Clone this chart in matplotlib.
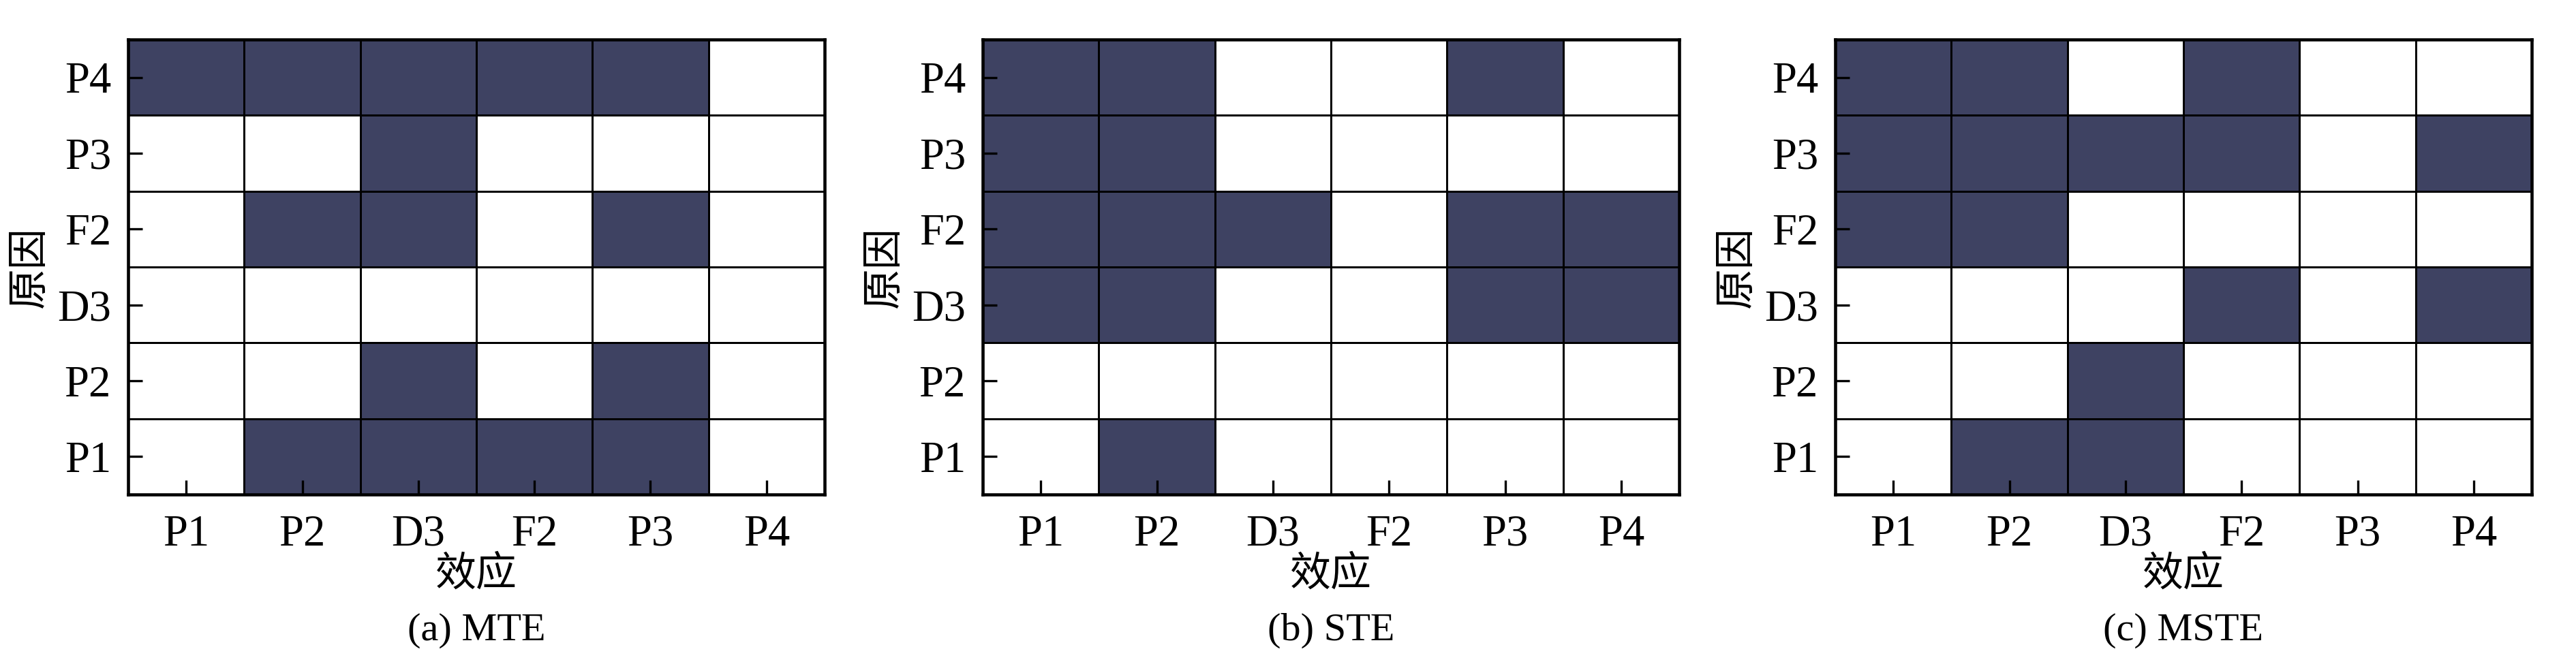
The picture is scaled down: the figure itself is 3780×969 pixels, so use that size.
import matplotlib
matplotlib.use("Agg")
import matplotlib.pyplot as plt
import numpy as np
from matplotlib.colors import ListedColormap

plt.rcParams['font.family'] = ['Liberation Serif', 'Noto Sans CJK SC']

effects = ["P1", "P2", "D3", "F2", "P3", "P4"]
causes = ["P1", "P2", "D3", "F2", "P3", "P4"]  # bottom to top
titles = ["(a) MTE", "(b) STE", "(c) MSTE"]

# rows = causes from P1 (bottom) to P4 (top); cols = effects
mte = [
    [0, 1, 1, 1, 1, 0],  # P1
    [0, 0, 1, 0, 1, 0],  # P2
    [0, 0, 0, 0, 0, 0],  # D3
    [0, 1, 1, 0, 1, 0],  # F2
    [0, 0, 1, 0, 0, 0],  # P3
    [1, 1, 1, 1, 1, 0],  # P4
]
ste = [
    [0, 1, 0, 0, 0, 0],
    [0, 0, 0, 0, 0, 0],
    [1, 1, 0, 0, 1, 1],
    [1, 1, 1, 0, 1, 1],
    [1, 1, 0, 0, 0, 0],
    [1, 1, 0, 0, 1, 0],
]
mste = [
    [0, 1, 1, 0, 0, 0],
    [0, 0, 1, 0, 0, 0],
    [0, 0, 0, 1, 0, 1],
    [1, 1, 0, 0, 0, 0],
    [1, 1, 1, 1, 0, 1],
    [1, 1, 0, 1, 0, 0],
]
matrices = [mte, ste, mste]

dark = "#3e4262"
cmap = ListedColormap(["white", dark])

W, H = 3780, 969
dpi = 300
fig = plt.figure(figsize=(W / dpi, H / dpi), dpi=dpi)

lefts_px = [188, 1442, 2693]
ax_w_px = 1022
top_px, bot_px = 58, 726

for i, (mat, title) in enumerate(zip(matrices, titles)):
    l = lefts_px[i] / W
    b = 1 - bot_px / H
    w = ax_w_px / W
    h = (bot_px - top_px) / H
    ax = fig.add_axes([l, b, w, h])
    data = np.array(mat)
    ax.pcolormesh(np.arange(len(effects) + 1), np.arange(len(causes) + 1), data,
                  cmap=cmap, vmin=0, vmax=1, edgecolors="black", linewidth=0.6)
    ax.set_xlim(0, len(effects))
    ax.set_ylim(0, len(causes))
    ax.set_xticks(np.arange(len(effects)) + 0.5)
    ax.set_xticklabels(effects)
    ax.set_yticks(np.arange(len(causes)) + 0.5)
    ax.set_yticklabels(causes)
    ax.tick_params(direction="in", length=5, width=0.8, labelsize=15.5, pad=6)
    ax.tick_params(axis="x", pad=7)
    for sp in ax.spines.values():
        sp.set_linewidth(1.1)
    ax.set_xlabel("效应", fontsize=14.4, family=['Noto Sans CJK SC'], va="center")
    ax.xaxis.set_label_coords(0.5, -0.175)
    ax.set_ylabel("原因", fontsize=14.4, family=['Noto Sans CJK SC'], va="center")
    ax.yaxis.set_label_coords(-0.142, 0.5)
    ax.text(0.5, -0.26, title, transform=ax.transAxes, ha="center", va="top",
            fontsize=14)

fig.savefig("out.png", dpi=dpi, facecolor="white")
